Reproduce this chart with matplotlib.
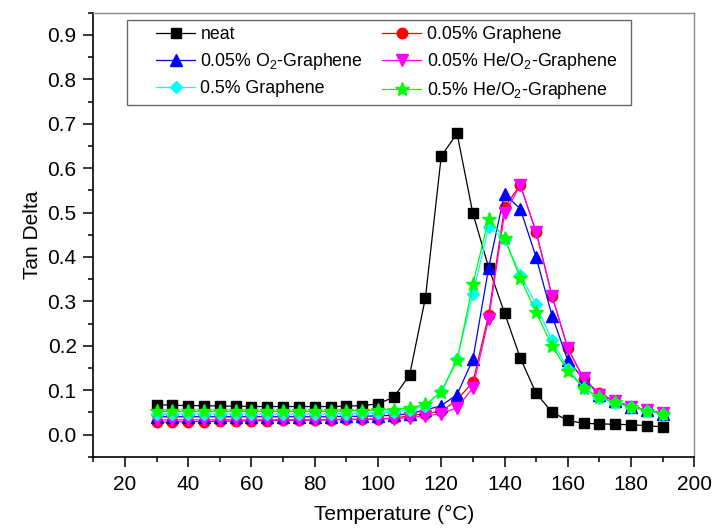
import matplotlib
matplotlib.use("Agg")
import matplotlib.pyplot as plt
from matplotlib.ticker import MultipleLocator
from matplotlib.patches import Rectangle

plt.rcParams['font.family'] = ['Liberation Sans', 'DejaVu Sans']
plt.rcParams['mathtext.default'] = 'regular'

temperature = [30, 35, 40, 45, 50, 55, 60, 65, 70, 75, 80, 85, 90, 95, 100,
               105, 110, 115, 120, 125, 130, 135, 140, 145, 150, 155, 160,
               165, 170, 175, 180, 185, 190]

neat = [0.067, 0.066, 0.065, 0.065, 0.064, 0.064, 0.063, 0.063, 0.063, 0.063,
        0.063, 0.063, 0.064, 0.065, 0.069, 0.084, 0.134, 0.308, 0.627, 0.678,
        0.498, 0.376, 0.274, 0.172, 0.093, 0.050, 0.032, 0.025, 0.024, 0.023,
        0.022, 0.020, 0.017]

graphene_005 = [0.028, 0.028, 0.029, 0.029, 0.030, 0.030, 0.031, 0.031, 0.032,
                0.032, 0.033, 0.033, 0.034, 0.034, 0.035, 0.037, 0.042, 0.047,
                0.052, 0.078, 0.118, 0.270, 0.512, 0.562, 0.456, 0.313, 0.195,
                0.125, 0.093, 0.074, 0.063, 0.055, 0.048]

o2_graphene_005 = [0.040, 0.040, 0.040, 0.040, 0.040, 0.040, 0.040, 0.040,
                   0.040, 0.040, 0.040, 0.040, 0.041, 0.041, 0.042, 0.043,
                   0.047, 0.055, 0.065, 0.090, 0.169, 0.376, 0.542, 0.508,
                   0.399, 0.268, 0.167, 0.125, 0.090, 0.075, 0.063, 0.055,
                   0.047]

heo2_graphene_005 = [0.033, 0.033, 0.033, 0.033, 0.033, 0.033, 0.033, 0.033,
                     0.033, 0.033, 0.033, 0.033, 0.034, 0.034, 0.035, 0.036,
                     0.038, 0.042, 0.047, 0.060, 0.105, 0.260, 0.498, 0.561,
                     0.456, 0.313, 0.194, 0.127, 0.090, 0.075, 0.063, 0.055,
                     0.048]

graphene_05 = [0.046, 0.046, 0.046, 0.046, 0.046, 0.046, 0.046, 0.046, 0.046,
               0.046, 0.046, 0.046, 0.047, 0.048, 0.049, 0.051, 0.055, 0.065,
               0.097, 0.170, 0.317, 0.467, 0.440, 0.360, 0.293, 0.212, 0.148,
               0.105, 0.082, 0.072, 0.062, 0.054, 0.046]

heo2_graphene_05 = [0.052, 0.052, 0.052, 0.052, 0.052, 0.052, 0.052, 0.052,
                    0.052, 0.052, 0.052, 0.052, 0.053, 0.054, 0.055, 0.056,
                    0.060, 0.068, 0.095, 0.167, 0.338, 0.486, 0.442, 0.352,
                    0.275, 0.200, 0.143, 0.105, 0.084, 0.073, 0.062, 0.054,
                    0.047]

labels = ["neat", "0.05% Graphene", "0.05% O$_2$-Graphene",
          "0.05% He/O$_2$-Graphene", "0.5% Graphene", "0.5% He/O$_2$-Graphene"]
series = [neat, graphene_005, o2_graphene_005, heo2_graphene_005,
          graphene_05, heo2_graphene_05]
colors = ["#000000", "#ff0000", "#0000ff", "#ff00ff", "#00ffff", "#00ff00"]
markers = ["s", "o", "^", "v", "D", "*"]
msizes = [7, 7.5, 8, 8, 6.5, 10]

fig = plt.figure(figsize=(7.14, 5.31), dpi=100)
ax = fig.add_axes([93.3 / 714, 1 - 456.7 / 531, 601 / 714, 444 / 531])

handles = []
for y, lab, c, m, ms in zip(series, labels, colors, markers, msizes):
    h, = ax.plot(temperature, y, color=c, marker=m, markersize=ms, lw=0.9,
                 markeredgecolor=c, label=lab)
    handles.append(h)

ax.set_xlim(10, 200)
ax.set_ylim(-0.05, 0.95)
ax.xaxis.set_minor_locator(MultipleLocator(10))
ax.yaxis.set_minor_locator(MultipleLocator(0.05))
ax.set_yticks([i / 10 for i in range(10)])
ax.set_yticklabels([f"{i / 10:.1f}" for i in range(10)])
ax.set_xticks(range(20, 201, 20))

ax.tick_params(which='major', direction='out', length=7, width=1.1,
               labelsize=15, pad=5, top=False, right=False)
ax.tick_params(which='minor', direction='out', length=3.5, width=1.1,
               top=False, right=False)
ax.tick_params(axis='x', which='major', pad=6)

for s in ['left', 'bottom']:
    ax.spines[s].set_linewidth(1.2)
    ax.spines[s].set_color('black')
for s in ['top', 'right']:
    ax.spines[s].set_linewidth(1.0)
    ax.spines[s].set_color('#888888')

ax.set_xlabel("Temperature (°C)", fontsize=15, labelpad=8)
ax.set_ylabel("Tan Delta", fontsize=15, labelpad=4)

# legend frame drawn separately
ax.add_patch(Rectangle((0.0566, 0.792), 0.838, 0.1915, transform=ax.transAxes,
                       facecolor='white', edgecolor='#666666', lw=1.0,
                       zorder=4))

# row-wise legend order (matplotlib fills column by column)
order = [0, 2, 4, 1, 3, 5]
leg = ax.legend([handles[i] for i in order], [labels[i] for i in order],
                loc='upper left', bbox_to_anchor=(0.1043, 0.5, 0.767, 0.47),
                mode='expand', ncol=2, fontsize=12.8, frameon=False,
                borderaxespad=0, handlelength=2.2, handletextpad=0.3,
                labelspacing=0.45, borderpad=0.0, columnspacing=1.0)
leg.set_zorder(5)

fig.savefig("out.png", dpi=100)
